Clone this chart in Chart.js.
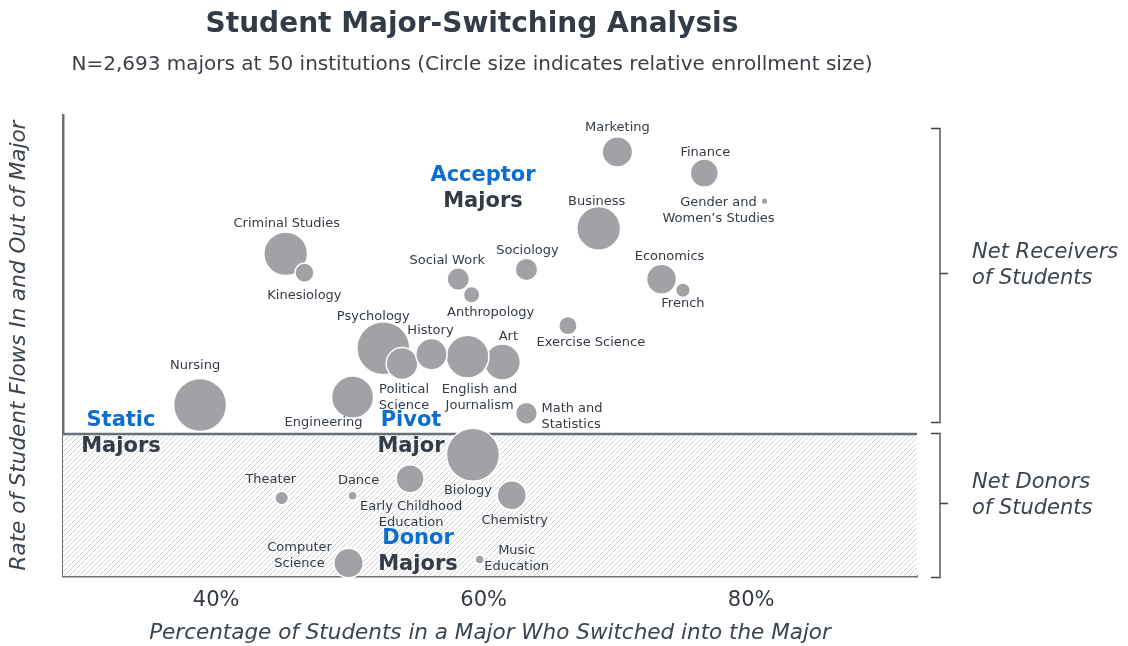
<!DOCTYPE html>
<html>
<head>
<meta charset="utf-8">
<script src="https://cdn.jsdelivr.net/npm/chart.js@4.4.1/dist/chart.umd.min.js"></script>
<style>
  html, body { margin: 0; padding: 0; background: #fff; }
  #wrap { width: 1128px; height: 646px; }
</style>
</head>
<body>
<div id="wrap"><canvas id="chart" width="1128" height="646"></canvas></div>
<script>
// ---- data ----
const majors = ["Marketing", "Finance", "Gender and Women's Studies", "Business", "Sociology",
  "Economics", "French", "Exercise Science", "Art", "Math and Statistics", "English and Journalism",
  "Criminal Studies", "Kinesiology", "Social Work", "Anthropology", "Psychology", "Political Science",
  "History", "Nursing", "Engineering", "Theater", "Dance", "Early Childhood Education", "Biology",
  "Chemistry", "Computer Science", "Music Education"];
// % of students who switched into the major
const switchedIn = [70.0, 76.5, 81.0, 68.6, 63.2, 73.3, 74.9, 66.3, 61.4, 63.2, 58.8,
  45.2, 46.6, 58.1, 59.1, 52.5, 53.9, 56.1, 38.8, 50.2, 44.9, 50.2, 54.5, 59.2, 62.1, 49.9, 59.7];
// rate of student flows in and out (index)
const flowRate = [92.0, 87.4, 81.3, 75.4, 66.5, 64.4, 62.0, 54.3, 46.4, 35.3, 47.6,
  69.9, 65.8, 64.4, 61.0, 49.4, 46.1, 48.1, 37.1, 38.8, 16.9, 17.4, 21.1, 26.3, 17.5, 2.8, 3.6];
// relative enrollment (largest = 100)
const enrollment = [33, 28, 1.6, 68, 18, 32, 7.5, 12, 46, 17, 65,
  68, 13, 18, 9.5, 100, 36, 35, 100, 63, 6.6, 2.9, 28, 100, 30, 31, 2.9];
const donorThreshold = 30.8;
const xTicks = [40, 60, 80];

// label lines + offsets from the bubble centre (layout only)
const labelLines = {
  "Gender and Women's Studies": ["Gender and", "Women\u2019s Studies"],
  "Math and Statistics": ["Math and", "Statistics"],
  "English and Journalism": ["English and", "Journalism"],
  "Political Science": ["Political", "Science"],
  "Early Childhood Education": ["Early Childhood", "Education"],
  "Computer Science": ["Computer", "Science"],
  "Music Education": ["Music", "Education"]
};
const labelOffsets = [[0, -24], [1, -20], [-46, 1, "center"], [-2, -27], [1, -19],
  [8, -22], [0, 13], [23, 17], [6, -25], [15, -5, "left"], [12, 33],
  [1, -30], [0, 23], [-11, -18], [19, 18], [-10, -32], [2, 26],
  [-1, -24], [-5, -39], [-29, 25], [-11, -18], [6, -15], [1, 28], [-5, 36],
  [3, 25], [-49, -15], [37, -9]];

const bubbleRadius = e => 26.5 * Math.sqrt(e / 100);

const points = majors.map((m, i) => ({ x: switchedIn[i], y: flowRate[i], r: bubbleRadius(enrollment[i]) }));

const FONT = "'DejaVu Sans', Verdana, sans-serif";
const DARK = "#333c46";
const BLUE = "#0a6fd0";
const AXIS = "#6a7078";

function hatchPattern(ctx) {
  const c = document.createElement("canvas");
  c.width = 5; c.height = 5;
  const p = c.getContext("2d");
  p.fillStyle = "#ffffff";
  p.fillRect(0, 0, 5, 5);
  p.strokeStyle = "#cfd0d2";
  p.lineWidth = 1;
  p.beginPath();
  p.moveTo(0, 5); p.lineTo(5, 0);
  p.moveTo(-1, 1); p.lineTo(1, -1);
  p.moveTo(4, 6); p.lineTo(6, 4);
  p.stroke();
  return ctx.createPattern(c, "repeat");
}

// shaded donor zone behind the bubbles
const donorZone = {
  id: "donorZone",
  beforeDatasetsDraw(chart) {
    const { ctx, chartArea: a, scales: { y } } = chart;
    const ty = y.getPixelForValue(donorThreshold);
    ctx.save();
    ctx.fillStyle = hatchPattern(ctx);
    ctx.fillRect(a.left, ty, a.right - a.left, a.bottom - ty);
    ctx.strokeStyle = AXIS;
    ctx.lineWidth = 2.5;
    ctx.beginPath();
    ctx.moveTo(a.left, ty); ctx.lineTo(a.right, ty);
    ctx.stroke();
    ctx.restore();
  }
};

// bubble labels, quadrant names, brackets, titles
const annotations = {
  id: "annotations",
  afterDatasetsDraw(chart) {
    const { ctx, scales: { x, y } } = chart;
    ctx.save();
    ctx.textBaseline = "middle";

    // bubble labels
    ctx.font = "13px " + FONT;
    ctx.fillStyle = DARK;
    majors.forEach((m, i) => {
      const px = x.getPixelForValue(switchedIn[i]);
      const py = y.getPixelForValue(flowRate[i]);
      const [dx, dy, align] = labelOffsets[i];
      ctx.textAlign = align || "center";
      const lines = labelLines[m] || [m];
      lines.forEach((t, k) => ctx.fillText(t, px + dx, py + dy + k * 16));
    });

    // quadrant names
    const quads = [
      ["Acceptor", "Majors", 483, 176],
      ["Static", "Majors", 121, 421],
      ["Pivot", "Major", 411, 421],
      ["Donor", "Majors", 418, 539]
    ];
    ctx.font = "bold 21px " + FONT;
    ctx.textAlign = "center";
    quads.forEach(([a, b, qx, qy]) => {
      ctx.fillStyle = BLUE;
      ctx.fillText(a, qx, qy);
      ctx.fillStyle = DARK;
      ctx.fillText(b, qx, qy + 26);
    });

    // brackets on the right
    const brackets = [
      [97.2, donorThreshold + 2.6, ["Net Receivers", "of Students"]],
      [donorThreshold + 0.3, -0.2, ["Net Donors", "of Students"]]
    ];
    ctx.strokeStyle = "#3c444d";
    ctx.lineWidth = 1.3;
    ctx.font = "italic 21px " + FONT;
    ctx.textAlign = "left";
    ctx.fillStyle = "#3a4550";
    brackets.forEach(([top, bot, text]) => {
      const t = Math.round(y.getPixelForValue(top)) + 0.5;
      const b = Math.round(y.getPixelForValue(bot)) + 0.5;
      const m = Math.round((t + b) / 2 - 3) + 0.5;
      ctx.beginPath();
      ctx.moveTo(931, t); ctx.lineTo(940, t); ctx.lineTo(940, b); ctx.lineTo(931, b);
      ctx.moveTo(940, m); ctx.lineTo(948, m);
      ctx.stroke();
      ctx.fillText(text[0], 972, m - 21);
      ctx.fillText(text[1], 972, m + 5);
    });

    // titles
    ctx.textAlign = "center";
    ctx.fillStyle = DARK;
    ctx.font = "bold 28px " + FONT;
    ctx.fillText("Student Major-Switching Analysis", 472, 25);
    ctx.fillStyle = "#3a3f45";
    ctx.font = "20px " + FONT;
    ctx.fillText("N=2,693 majors at 50 institutions (Circle size indicates relative enrollment size)", 472, 65);
    ctx.restore();
  }
};

new Chart(document.getElementById("chart"), {
  type: "bubble",
  data: {
    datasets: [{
      label: "Majors",
      data: points,
      backgroundColor: "#a0a2a6",
      borderColor: "#ffffff",
      borderWidth: 1.5,
      clip: false
    }]
  },
  plugins: [donorZone, annotations],
  options: {
    responsive: false,
    animation: false,
    devicePixelRatio: 1,
    layout: { padding: { top: 115, right: 211, left: 0, bottom: 0 } },
    plugins: { legend: { display: false }, tooltip: { enabled: false } },
    scales: {
      x: {
        type: "linear",
        min: 28.55,
        max: 92.4,
        afterFit: s => { s.height = 70; },
        afterBuildTicks: s => { s.ticks = xTicks.map(v => ({ value: v })); },
        grid: { display: false, drawTicks: false },
        border: { display: true, color: AXIS, width: 2.5 },
        ticks: {
          padding: 12,
          color: "#333a42",
          font: { family: FONT, size: 21 },
          callback: v => v + "%"
        },
        title: {
          display: true,
          text: "Percentage of Students in a Major Who Switched into the Major",
          color: "#3a4550",
          font: { family: FONT, size: 21.5, style: "italic" },
          padding: { top: 0, bottom: 0 }
        }
      },
      y: {
        type: "linear",
        min: 0,
        max: 100,
        afterFit: s => { s.width = 63; },
        grid: { display: false, drawTicks: false },
        border: { display: true, color: AXIS, width: 2.5 },
        ticks: { display: false },
        title: {
          display: true,
          text: "Rate of Student Flows In and Out of Major",
          color: "#3a4550",
          font: { family: FONT, size: 21.5, style: "italic" },
          padding: { top: 7, bottom: 0 }
        }
      }
    }
  }
});
</script>
</body>
</html>
